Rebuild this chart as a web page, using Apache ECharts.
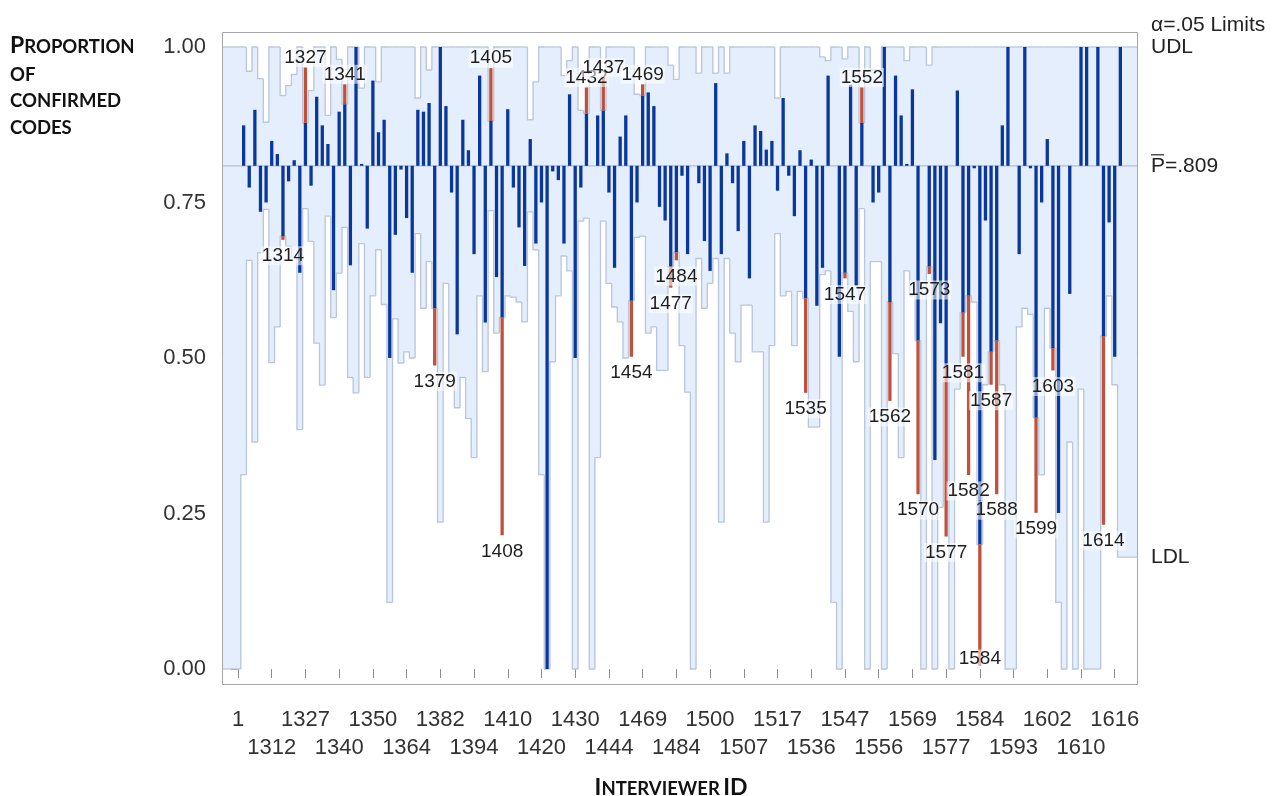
<!DOCTYPE html>
<html><head><meta charset="utf-8">
<script src="https://cdn.jsdelivr.net/npm/echarts@6/dist/echarts.min.js"></script>
<style>html,body{margin:0;padding:0;background:#fff}#c{width:1282px;height:796px}</style>
</head><body><div id="c"></div>
<script>
// ---------- data ----------
const interviewerIds = [
  '1','1301','1303','1305','1307','1310',
  '1312','1313','1314','1316','1320','1324',
  '1327','1329','1331','1333','1336','1338',
  '1340','1341','1343','1345','1347','1348',
  '1350','1352','1355','1357','1359','1362',
  '1364','1367','1370','1373','1376','1379',
  '1382','1384','1386','1388','1390','1392',
  '1394','1398','1402','1405','1406','1408',
  '1410','1411','1413','1415','1417','1418',
  '1420','1422','1424','1425','1427','1428',
  '1430','1431','1432','1434','1435','1437',
  '1444','1446','1448','1451','1454','1460',
  '1469','1470','1472','1474','1475','1477',
  '1484','1487','1490','1493','1496','1498',
  '1500','1501','1502','1503','1504','1505',
  '1507','1509','1511','1512','1514','1515',
  '1517','1521','1525','1528','1532','1535',
  '1536','1538','1540','1542','1544','1545',
  '1547','1549','1550','1552','1553','1554',
  '1556','1559','1562','1564','1566','1568',
  '1569','1570','1571','1573','1574','1576',
  '1577','1578','1580','1581','1582','1583',
  '1584','1586','1587','1588','1590','1591',
  '1593','1595','1596','1598','1599','1600',
  '1602','1603','1605','1606','1607','1608',
  '1610','1611','1612','1613','1614','1615',
  '1616','1618'
];
const tickLabels = ['1','1312','1327','1340','1350','1364','1382','1394','1410','1420','1430','1444','1469',
  '1484','1500','1507','1517','1536','1547','1556','1569','1577','1584','1593','1602','1610','1616'];
const proportion = [
  null,0.874,0.774,0.899,0.735,0.75,
  0.849,0.828,0.69,0.784,0.818,0.637,
  0.967,0.777,0.92,0.874,0.844,0.609,
  0.896,0.94,0.649,1.0,0.812,0.708,
  0.946,0.863,0.883,0.50,0.698,0.803,
  0.725,0.637,0.899,0.896,0.91,0.488,
  1.0,0.905,0.766,0.538,0.883,0.834,
  0.667,0.954,0.557,0.966,0.63,0.215,
  0.9,0.774,0.71,0.648,0.852,0.684,
  0.75,0.0,0.8,0.786,0.684,0.924,
  0.50,0.774,0.935,null,0.89,0.951,
  0.766,0.645,0.856,0.89,0.502,0.75,
  0.94,0.927,0.905,0.743,0.721,0.613,
  0.657,0.793,0.667,null,0.781,0.688,
  0.64,0.942,0.667,0.829,0.781,0.704,
  0.849,0.628,0.874,0.865,0.835,0.849,
  0.769,0.918,0.793,0.728,0.834,0.444,
  0.819,0.584,0.645,0.954,null,0.502,
  0.628,0.939,0.616,0.935,null,0.75,
  0.766,1.0,0.431,0.954,0.89,0.812,
  0.932,0.281,null,0.635,0.336,0.556,
  0.213,null,0.93,0.502,0.312,0.805,
  0.005,0.721,0.457,0.281,0.874,1.0,
  null,0.667,1.0,0.805,0.251,0.75,
  0.852,0.48,0.251,null,0.603,null,
  1.0,1.0,null,1.0,0.232,0.718,
  0.502,1.0
];
const ldl = [
  0,0.3125,0.657,0.365,0.669,0.739,
  0.4925,0.55,0.696,0.68,0.662,0.385,
  0.74,0.6875,0.524,0.4565,0.728,0.565,
  0.6365,0.71,0.469,0.444,0.684,0.469,
  0.6,0.674,0.586,0.107,0.563,0.492,
  0.51,0.5,0.7,0.58,0.655,0.58,
  0.236,0.62,0.47,0.42,0.469,0.403,
  0.34,0.6,0.478,0.737,0.54,0.565,
  0.6,0.598,0.59,0.558,0.735,0.674,
  0.3125,0,0.494,0.6,0.664,0.64,
  0,0.72,0.725,0,0.34,0.72,
  0.62,0.582,0.558,0.5,0.592,0.694,
  0.696,0.54,0.55,0.48,0.48,0.647,
  0.67,0.52,0.445,0,0.66,0.58,
  0.62,0.66,0.236,0.66,0.54,0.494,
  0.585,0.585,0.51,0.51,0.236,0.52,
  0.70,0.6,0.607,0.52,0.607,0.596,
  0.389,0.389,0.634,0.64,0.107,0,
  0.637,0.575,0.494,0.74,0,0.655,
  0.655,0,0.59,0.507,0.34,0.64,
  0.6,0.528,0,0.647,0,0.26,
  0.488,0,0.45,0.573,0.60,0.59,
  0.2,0.457,0.51,0.528,0.457,0,
  0,0.55,0.58,0.57,0.404,0.312,
  0.58,0.516,0.107,0,0.365,0,
  0.45,0,0,0,0.535,0.6,
  0.457,0.18
];
const udl = [
  1,1,0.961,1,0.949,0.879,
  1,1,0.922,0.938,0.956,1,
  0.878,0.93,1,1,0.89,1,
  0.98,0.908,1,1,0.934,1,
  1,0.944,1,1,1,1,
  1,1,0.918,1,0.963,1,
  1,1,1,1,1,1,
  1,1,1,0.881,1,1,
  1,1,1,1,0.883,0.944,
  1,1,1,1,0.954,0.978,
  1,0.898,0.893,1,1,0.898,
  1,1,1,1,1,0.924,
  0.922,1,1,1,1,0.971,
  0.948,1,1,1,0.958,1,
  1,0.958,1,0.958,1,1,
  1,1,1,1,1,1,
  0.918,1,1,1,1,1,
  1,1,0.984,0.978,1,1,
  0.981,1,1,0.878,1,0.963,
  0.963,1,1,1,1,0.978,
  1,1,1,0.971,1,1,
  1,1,1,1,1,1,
  1,1,1,1,1,1,
  1,1,1,1,1,1,
  1,1,1,1,1,1,
  1,1,1,1,1,1,
  1,1
];
const pBar = 0.809;
const yTickValues = [0, 0.25, 0.5, 0.75, 1.0];

// ---------- styles / layout ----------
const BLUE = '#0a379c', RED = '#c2513c', BAND = '#e4eefc', EDGE = '#bac6da', CENTER = '#b3bed2';
const FONT = '"Liberation Sans", Arial, sans-serif';
const TFONT = 'Lato, "Open Sans", sans-serif';
const G = {left: 222, top: 32, width: 916, height: 653};
const X_MIN = -2.847, X_MAX = 160.142, Y_MIN = -0.0257, Y_MAX = 1.0241;
const n = interviewerIds.length;
const tickPositions = tickLabels.map((t) => interviewerIds.indexOf(t));
const rowOne = tickPositions.filter((p, k) => k % 2 === 0);
const rowTwo = tickPositions.filter((p, k) => k % 2 === 1);
const rows = interviewerIds.map((id, i) => [i, ldl[i], udl[i], proportion[i] == null ? pBar : proportion[i]]);
const tickText = (v) => tickLabels[tickPositions.indexOf(Math.round(v))];

function renderBand(params, api) {
  const i = params.dataIndex;
  const cs = params.coordSys;
  const cx = api.coord([i, 0])[0];
  const half = api.size([1, 0])[0] / 2;
  let xl = cx - half, xr = cx + half;
  if (i === 0) xl = cs.x + 1;
  if (i === n - 1) xr = cs.x + cs.width - 1;
  const yHi = api.coord([i, api.value(2)])[1];
  const yLo = api.coord([i, api.value(1)])[1];
  const ch = [{type: 'rect', z2: 0, shape: {x: xl - 0.5, y: yHi, width: xr - xl + 1, height: yLo - yHi}, style: {fill: BAND}}];
  let hp, lp;
  if (i > 0) {
    const pHi = api.coord([i - 1, udl[i - 1]])[1], pLo = api.coord([i - 1, ldl[i - 1]])[1];
    hp = [[xl, pHi], [xl, yHi], [xr, yHi]];
    lp = [[xl, pLo], [xl, yLo], [xr, yLo]];
  } else {
    hp = [[xl, yHi], [xr, yHi]];
    lp = [[xl, yLo], [xr, yLo]];
  }
  ch.push({type: 'polyline', z2: 1, shape: {points: hp}, style: {stroke: EDGE, lineWidth: 1.3, fill: null}});
  ch.push({type: 'polyline', z2: 1, shape: {points: lp}, style: {stroke: EDGE, lineWidth: 1.3, fill: null}});
  return {type: 'group', children: ch};
}

function renderBars(params, api) {
  const i = params.dataIndex;
  if (proportion[i] == null) return null;
  const cs = params.coordSys;
  const v = api.value(3), lo = api.value(1), hi = api.value(2);
  const cx = api.coord([i, 0])[0];
  const w = 3.3;
  const y0 = api.coord([i, pBar])[1];
  const lim = v > hi ? hi : (v < lo ? lo : v);
  const yl = api.coord([i, lim])[1], yv = api.coord([i, v])[1];
  const ch = [{type: 'rect', z2: 2, shape: {x: cx - w / 2, y: Math.min(y0, yl), width: w, height: Math.max(Math.abs(yl - y0), 1)}, style: {fill: BLUE}}];
  if (lim !== v) {
    ch.push({type: 'rect', z2: 3, shape: {x: cx - w / 2, y: Math.min(yl, yv), width: w, height: Math.abs(yv - yl)}, style: {fill: RED}});
    const ly = v < lo ? Math.min(yv + 16, cs.y + cs.height - 26) : yv - 10;
    ch.push({type: 'text', z2: 10, x: cx, y: ly, style: {
      text: interviewerIds[i], font: '19px ' + FONT, fill: '#1e1e1e', align: 'center', verticalAlign: 'middle',
      backgroundColor: 'rgba(255,255,255,0.55)', padding: [0, 1]}});
  }
  return {type: 'group', children: ch};
}

const xLabelBase = {show: true, fontSize: 22, fontFamily: FONT, color: '#333',
  showMinLabel: true, showMaxLabel: true, hideOverlap: false, formatter: tickText};

const chart = echarts.init(document.getElementById('c'), null, {renderer: 'canvas'});
chart.setOption({
  animation: false,
  backgroundColor: '#fff',
  grid: {left: G.left, top: G.top, width: G.width, height: G.height, containLabel: false},
  xAxis: [
    {
      type: 'value', min: X_MIN, max: X_MAX, position: 'bottom',
      axisLine: {show: false}, splitLine: {show: false},
      axisTick: {show: true, customValues: tickPositions, length: 9, lineStyle: {color: '#8c8c8c'}},
      axisLabel: Object.assign({customValues: rowOne, margin: 24}, xLabelBase)
    },
    {
      type: 'value', min: X_MIN, max: X_MAX, position: 'bottom', offset: 0,
      axisLine: {show: false}, splitLine: {show: false}, axisTick: {show: false},
      axisLabel: Object.assign({customValues: rowTwo, margin: 52}, xLabelBase)
    }
  ],
  yAxis: {
    type: 'value', min: Y_MIN, max: Y_MAX,
    axisLine: {show: false}, splitLine: {show: false},
    axisTick: {show: true, customValues: yTickValues, length: 7, lineStyle: {color: '#8c8c8c'}},
    axisLabel: {show: true, customValues: yTickValues, margin: 16, fontSize: 22, fontFamily: FONT, color: '#333',
      showMinLabel: true, showMaxLabel: true,
      formatter: (v) => v.toFixed(2)}
  },
  series: [
    {type: 'custom', name: 'limits', z: 1, data: rows, renderItem: renderBand, silent: true},
    {type: 'line', name: 'pbar', z: 2, data: [[X_MIN, pBar], [X_MAX, pBar]], symbol: 'none', silent: true,
      lineStyle: {color: CENTER, width: 1.2}},
    {type: 'custom', name: 'proportion', z: 3, data: rows, renderItem: renderBars, silent: true}
  ]
});

const px = (x, y) => chart.convertToPixel({gridIndex: 0}, [x, y]);
const yU = px(n - 1, udl[n - 1])[1];
const yL = px(n - 1, ldl[n - 1])[1];
const yP = px(n - 1, pBar)[1];
const RX = 1151;
const rich = {
  b: {fontSize: 23, fontWeight: 700, fontFamily: TFONT, fill: '#111', lineHeight: 28, verticalAlign: 'bottom'},
  s: {fontSize: 18.5, fontWeight: 700, fontFamily: TFONT, fill: '#111', lineHeight: 28, verticalAlign: 'bottom'}
};
const txt = (x, y, text) => ({type: 'text', x: x, y: y, z: 100,
  style: {text: text, font: '21px ' + FONT, fill: '#222', verticalAlign: 'middle', align: 'left'}});
const ttl = (x, y, text, align) => ({type: 'text', z: 100, x: x, y: y,
  style: {text: text, rich: rich, verticalAlign: 'middle', align: align || 'left'}});
chart.setOption({
  graphic: [
    {type: 'rect', z: 100, shape: {x: G.left + 0.5, y: G.top + 0.5, width: G.width - 1, height: G.height - 1},
      style: {fill: null, stroke: '#a8a8a8', lineWidth: 1}},
    txt(RX, yU - 22, 'α=.05 Limits'),
    txt(RX, yU, 'UDL'),
    txt(RX, yP, 'P=.809'),
    {type: 'line', z: 100, shape: {x1: RX, y1: yP - 11, x2: RX + 13, y2: yP - 11}, style: {stroke: '#222', lineWidth: 1.2}},
    txt(RX, yL, 'LDL'),
    ttl(10, 43, '{b|P}{s|ROPORTION}'),
    ttl(10, 71, '{s|OF}'),
    ttl(10, 97, '{s|CONFIRMED}'),
    ttl(10, 124, '{s|CODES}'),
    ttl(671, 785, '{b|I}{s|NTERVIEWER} {b|ID}', 'center')
  ]
});
</script>
</body></html>
